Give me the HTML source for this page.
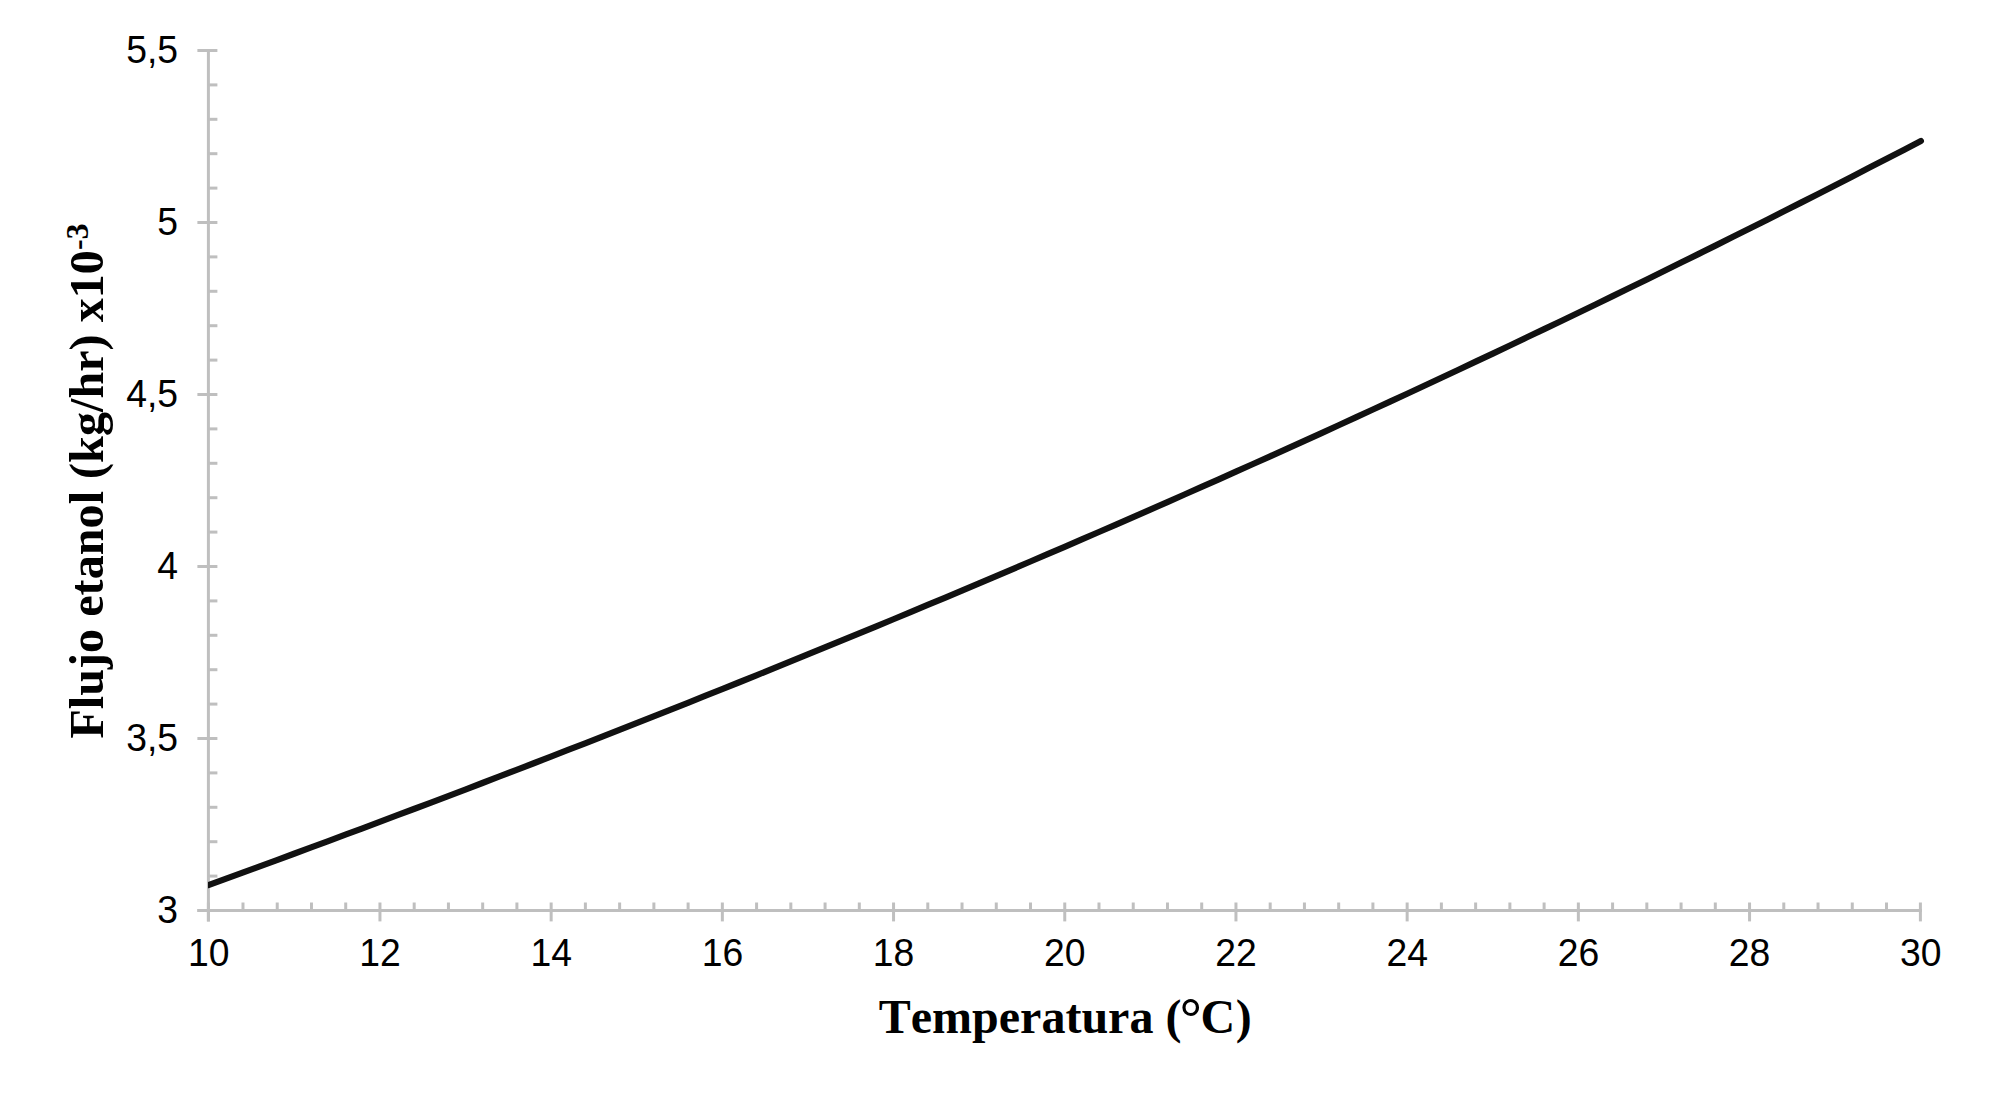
<!DOCTYPE html>
<html lang="es"><head><meta charset="utf-8"><title>Flujo etanol vs Temperatura</title>
<style>html,body{margin:0;padding:0;background:#fff;}body{width:1992px;height:1100px;overflow:hidden;}svg{display:block;}.tick{font-family:"Liberation Sans",Arial,sans-serif;font-size:37.33px;fill:#000;}.ttl{font-family:"Liberation Serif","Times New Roman",serif;font-weight:bold;font-size:48px;fill:#000;font-kerning:none;}</style></head><body>
<svg width="1992" height="1100" viewBox="0 0 1992 1100">
<rect width="1992" height="1100" fill="#ffffff"/>
<g stroke="#bfbfbf" stroke-width="3" fill="none" stroke-linecap="butt">
<line x1="208.4" y1="49.0" x2="208.4" y2="921.4"/>
<line x1="197.4" y1="910.5" x2="1921.9" y2="910.5"/>
<line x1="197.4" y1="910.5" x2="217.4" y2="910.5"/>
<line x1="208.4" y1="876.1" x2="217.4" y2="876.1"/>
<line x1="208.4" y1="841.7" x2="217.4" y2="841.7"/>
<line x1="208.4" y1="807.3" x2="217.4" y2="807.3"/>
<line x1="208.4" y1="772.9" x2="217.4" y2="772.9"/>
<line x1="197.4" y1="738.5" x2="217.4" y2="738.5"/>
<line x1="208.4" y1="704.1" x2="217.4" y2="704.1"/>
<line x1="208.4" y1="669.7" x2="217.4" y2="669.7"/>
<line x1="208.4" y1="635.3" x2="217.4" y2="635.3"/>
<line x1="208.4" y1="600.9" x2="217.4" y2="600.9"/>
<line x1="197.4" y1="566.5" x2="217.4" y2="566.5"/>
<line x1="208.4" y1="532.1" x2="217.4" y2="532.1"/>
<line x1="208.4" y1="497.7" x2="217.4" y2="497.7"/>
<line x1="208.4" y1="463.3" x2="217.4" y2="463.3"/>
<line x1="208.4" y1="428.9" x2="217.4" y2="428.9"/>
<line x1="197.4" y1="394.5" x2="217.4" y2="394.5"/>
<line x1="208.4" y1="360.1" x2="217.4" y2="360.1"/>
<line x1="208.4" y1="325.7" x2="217.4" y2="325.7"/>
<line x1="208.4" y1="291.3" x2="217.4" y2="291.3"/>
<line x1="208.4" y1="256.9" x2="217.4" y2="256.9"/>
<line x1="197.4" y1="222.5" x2="217.4" y2="222.5"/>
<line x1="208.4" y1="188.1" x2="217.4" y2="188.1"/>
<line x1="208.4" y1="153.7" x2="217.4" y2="153.7"/>
<line x1="208.4" y1="119.3" x2="217.4" y2="119.3"/>
<line x1="208.4" y1="84.9" x2="217.4" y2="84.9"/>
<line x1="197.4" y1="50.5" x2="217.4" y2="50.5"/>
<line x1="208.4" y1="902.5" x2="208.4" y2="921.4"/>
<line x1="242.99" y1="902.5" x2="242.99" y2="910.5"/>
<line x1="277.23" y1="902.5" x2="277.23" y2="910.5"/>
<line x1="311.47" y1="902.5" x2="311.47" y2="910.5"/>
<line x1="345.71" y1="902.5" x2="345.71" y2="910.5"/>
<line x1="379.95" y1="902.5" x2="379.95" y2="921.4"/>
<line x1="414.19" y1="902.5" x2="414.19" y2="910.5"/>
<line x1="448.43" y1="902.5" x2="448.43" y2="910.5"/>
<line x1="482.67" y1="902.5" x2="482.67" y2="910.5"/>
<line x1="516.91" y1="902.5" x2="516.91" y2="910.5"/>
<line x1="551.15" y1="902.5" x2="551.15" y2="921.4"/>
<line x1="585.39" y1="902.5" x2="585.39" y2="910.5"/>
<line x1="619.63" y1="902.5" x2="619.63" y2="910.5"/>
<line x1="653.87" y1="902.5" x2="653.87" y2="910.5"/>
<line x1="688.11" y1="902.5" x2="688.11" y2="910.5"/>
<line x1="722.35" y1="902.5" x2="722.35" y2="921.4"/>
<line x1="756.59" y1="902.5" x2="756.59" y2="910.5"/>
<line x1="790.83" y1="902.5" x2="790.83" y2="910.5"/>
<line x1="825.07" y1="902.5" x2="825.07" y2="910.5"/>
<line x1="859.31" y1="902.5" x2="859.31" y2="910.5"/>
<line x1="893.55" y1="902.5" x2="893.55" y2="921.4"/>
<line x1="927.79" y1="902.5" x2="927.79" y2="910.5"/>
<line x1="962.03" y1="902.5" x2="962.03" y2="910.5"/>
<line x1="996.27" y1="902.5" x2="996.27" y2="910.5"/>
<line x1="1030.51" y1="902.5" x2="1030.51" y2="910.5"/>
<line x1="1064.75" y1="902.5" x2="1064.75" y2="921.4"/>
<line x1="1098.99" y1="902.5" x2="1098.99" y2="910.5"/>
<line x1="1133.23" y1="902.5" x2="1133.23" y2="910.5"/>
<line x1="1167.47" y1="902.5" x2="1167.47" y2="910.5"/>
<line x1="1201.71" y1="902.5" x2="1201.71" y2="910.5"/>
<line x1="1235.95" y1="902.5" x2="1235.95" y2="921.4"/>
<line x1="1270.19" y1="902.5" x2="1270.19" y2="910.5"/>
<line x1="1304.43" y1="902.5" x2="1304.43" y2="910.5"/>
<line x1="1338.67" y1="902.5" x2="1338.67" y2="910.5"/>
<line x1="1372.91" y1="902.5" x2="1372.91" y2="910.5"/>
<line x1="1407.15" y1="902.5" x2="1407.15" y2="921.4"/>
<line x1="1441.39" y1="902.5" x2="1441.39" y2="910.5"/>
<line x1="1475.63" y1="902.5" x2="1475.63" y2="910.5"/>
<line x1="1509.87" y1="902.5" x2="1509.87" y2="910.5"/>
<line x1="1544.11" y1="902.5" x2="1544.11" y2="910.5"/>
<line x1="1578.35" y1="902.5" x2="1578.35" y2="921.4"/>
<line x1="1612.59" y1="902.5" x2="1612.59" y2="910.5"/>
<line x1="1646.83" y1="902.5" x2="1646.83" y2="910.5"/>
<line x1="1681.07" y1="902.5" x2="1681.07" y2="910.5"/>
<line x1="1715.31" y1="902.5" x2="1715.31" y2="910.5"/>
<line x1="1749.55" y1="902.5" x2="1749.55" y2="921.4"/>
<line x1="1783.79" y1="902.5" x2="1783.79" y2="910.5"/>
<line x1="1818.03" y1="902.5" x2="1818.03" y2="910.5"/>
<line x1="1852.27" y1="902.5" x2="1852.27" y2="910.5"/>
<line x1="1886.51" y1="902.5" x2="1886.51" y2="910.5"/>
<line x1="1920.4" y1="902.5" x2="1920.4" y2="921.4"/>
</g>
<clipPath id="c"><rect x="207.9" y="0" width="1800" height="1100"/></clipPath>
<polyline clip-path="url(#c)" points="208.40,885.10 225.52,878.87 242.65,872.62 259.77,866.35 276.90,860.06 294.02,853.75 311.15,847.42 328.28,841.07 345.40,834.70 362.53,828.31 379.65,821.90 396.77,815.47 413.90,809.02 431.02,802.54 448.15,796.05 465.28,789.53 482.40,782.99 499.53,776.44 516.65,769.85 533.78,763.25 550.90,756.63 568.02,749.98 585.15,743.31 602.27,736.62 619.40,729.90 636.52,723.17 653.65,716.41 670.77,709.62 687.90,702.81 705.03,695.98 722.15,689.13 739.27,682.25 756.40,675.35 773.53,668.42 790.65,661.47 807.77,654.49 824.90,647.49 842.02,640.47 859.15,633.42 876.28,626.34 893.40,619.24 910.52,612.12 927.65,604.97 944.78,597.79 961.90,590.59 979.02,583.36 996.15,576.10 1013.27,568.82 1030.40,561.51 1047.53,554.18 1064.65,546.81 1081.78,539.43 1098.90,532.01 1116.03,524.57 1133.15,517.10 1150.28,509.60 1167.40,502.07 1184.53,494.52 1201.65,486.93 1218.78,479.32 1235.90,471.69 1253.03,464.02 1270.15,456.32 1287.28,448.60 1304.40,440.84 1321.53,433.06 1338.65,425.24 1355.78,417.40 1372.90,409.53 1390.03,401.63 1407.15,393.70 1424.28,385.73 1441.40,377.74 1458.53,369.72 1475.65,361.66 1492.78,353.58 1509.90,345.46 1527.02,337.32 1544.15,329.14 1561.28,320.93 1578.40,312.69 1595.52,304.42 1612.65,296.11 1629.78,287.78 1646.90,279.41 1664.03,271.01 1681.15,262.57 1698.27,254.11 1715.40,245.61 1732.53,237.07 1749.65,228.51 1766.77,219.91 1783.90,211.28 1801.03,202.61 1818.15,193.91 1835.27,185.18 1852.40,176.41 1869.52,167.61 1886.65,158.77 1903.77,149.90 1920.90,140.99" fill="none" stroke="#111111" stroke-width="6.2" stroke-linecap="round" stroke-linejoin="round"/>
<text class="tick" transform="translate(178.1,922.90) scale(1,1.045)" text-anchor="end">3</text>
<text class="tick" transform="translate(178.1,750.90) scale(1,1.045)" text-anchor="end">3,5</text>
<text class="tick" transform="translate(178.1,578.90) scale(1,1.045)" text-anchor="end">4</text>
<text class="tick" transform="translate(178.1,406.90) scale(1,1.045)" text-anchor="end">4,5</text>
<text class="tick" transform="translate(178.1,234.90) scale(1,1.045)" text-anchor="end">5</text>
<text class="tick" transform="translate(178.1,62.90) scale(1,1.045)" text-anchor="end">5,5</text>
<text class="tick" transform="translate(208.80,965.8) scale(1,1.045)" text-anchor="middle">10</text>
<text class="tick" transform="translate(380.00,965.8) scale(1,1.045)" text-anchor="middle">12</text>
<text class="tick" transform="translate(551.20,965.8) scale(1,1.045)" text-anchor="middle">14</text>
<text class="tick" transform="translate(722.40,965.8) scale(1,1.045)" text-anchor="middle">16</text>
<text class="tick" transform="translate(893.60,965.8) scale(1,1.045)" text-anchor="middle">18</text>
<text class="tick" transform="translate(1064.80,965.8) scale(1,1.045)" text-anchor="middle">20</text>
<text class="tick" transform="translate(1236.00,965.8) scale(1,1.045)" text-anchor="middle">22</text>
<text class="tick" transform="translate(1407.20,965.8) scale(1,1.045)" text-anchor="middle">24</text>
<text class="tick" transform="translate(1578.40,965.8) scale(1,1.045)" text-anchor="middle">26</text>
<text class="tick" transform="translate(1749.60,965.8) scale(1,1.045)" text-anchor="middle">28</text>
<text class="tick" transform="translate(1920.80,965.8) scale(1,1.045)" text-anchor="middle">30</text>
<text class="ttl" x="878.8" y="1032.8">Temperatura (<tspan style="font-size:55px" dx="-1.6" dy="3.3">°</tspan><tspan dx="-1.2" dy="-3.3">C</tspan><tspan dx="0.4">)</tspan></text>
<text class="ttl" style="font-size:48.2px" transform="translate(102.7,738.6) rotate(-90)" x="0" y="0">Flujo etanol (kg/hr) x10<tspan style="font-size:32px" dy="-14.8">-3</tspan></text>
</svg></body></html>
